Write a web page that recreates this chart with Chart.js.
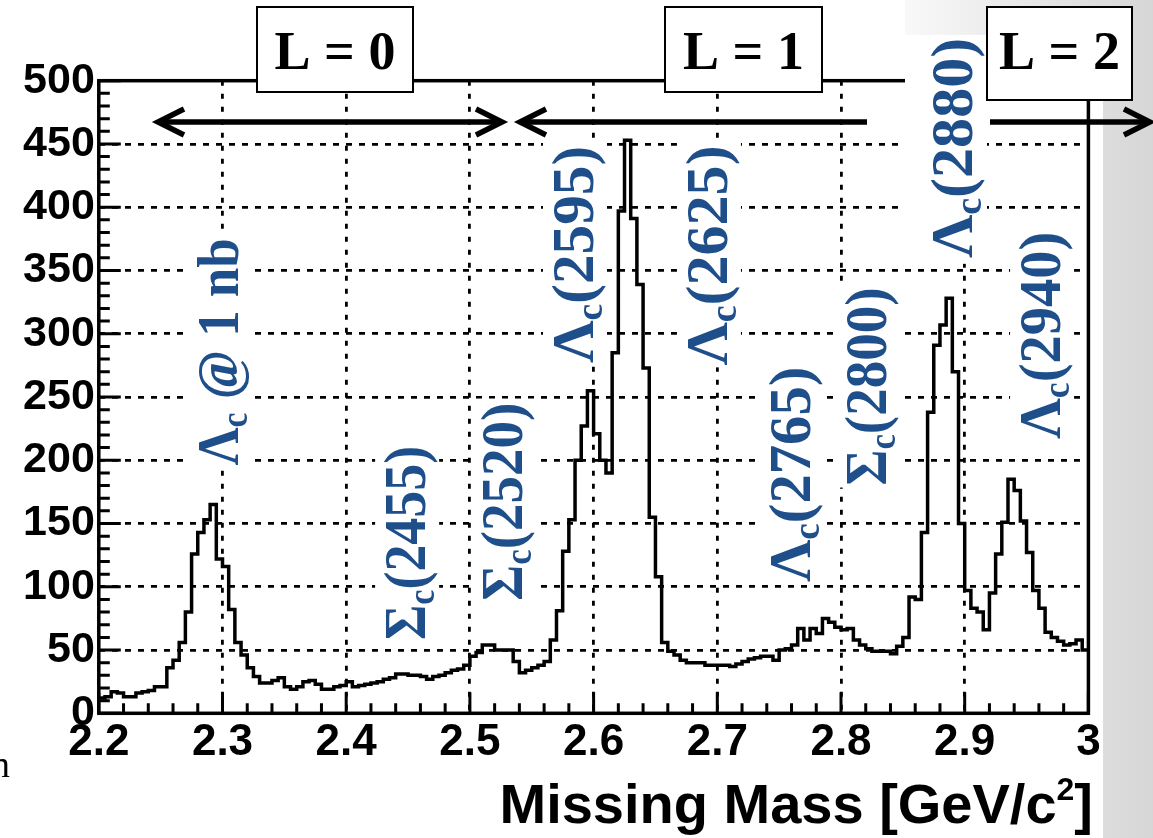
<!DOCTYPE html>
<html><head><meta charset="utf-8">
<script src="https://cdn.jsdelivr.net/npm/chart.js@4.4.1/dist/chart.umd.min.js"></script>
<style>html,body{margin:0;padding:0;background:#fff;overflow:hidden}canvas{display:block}</style>
</head><body>
<canvas id="c" width="1153" height="838"></canvas>
<script>
// ---------- data ----------
const xMin = 2.2, xMax = 3.0, binWidth = 0.005;
const counts = [
 12,13,17,16,13,13,16,17,18,21, 21,36,42,56,80,126,143,153,165,122,
 116,82,56,46,36,29,24,24,26,28, 21,19,21,25,26,23,19,19,21,22,
 25,21,22,23,24,25,27,28,31,31, 30,30,29,27,29,30,32,34,35,38,
 45,48,54,54,50,50,50,41,32,34, 36,38,41,58,81,128,153,200,227,255,
 221,200,190,285,397,453,391,339,273,155, 108,56,49,46,42,40,40,40,38,38,
 38,38,37,39,41,43,44,45,45,42, 50,51,54,67,58,67,63,75,72,68,
 66,67,58,54,51,49,49,49,47,53, 60,92,90,143,238,291,307,328,270,150,
 97,83,80,66,95,126,151,185,176,152, 127,97,83,64,60,57,54,55,58,50
];
const xTickLabels = ['2.2','2.3','2.4','2.5','2.6','2.7','2.8','2.9','3'];
const yTickLabels = ['0','50','100','150','200','250','300','350','400','450','500'];
const xTitle = 'Missing Mass [GeV/c';
const xTitleSup = '2';
const stateSym  = ['Λ','Σ','Σ','Λ','Λ','Λ','Σ','Λ','Λ'];
const stateText = [' @ 1 nb','(2455)','(2520)','(2595)','(2625)','(2765)','(2800)','(2880)','(2940)'];
const waveLabels = ['L = 0','L = 1','L = 2'];

// ---------- layout (annotation anchors: mass / count where each rotated label starts) ----------
const labelAnchors = [
 {m:2.3125,c:196,len:227},{m:2.4638,c:58,len:194},{m:2.5421,c:89,len:198},
 {m:2.5995,c:277,len:217},{m:2.7078,c:275,len:220},{m:2.7750,c:104,len:215},
 {m:2.8364,c:180,len:198},{m:2.9059,c:360,len:220},{m:2.9771,c:217,len:207}
];
const boxLayout = [{x0:257,x1:413,y0:7,y1:92},{x0:665,x1:822,y0:7,y1:92},{x0:987,x1:1132,y0:7,y1:100}];
const LBLUE = '#1f4f8a';

const points = counts.map((v,i)=>({x: xMin + i*binWidth, y: v}));
points.push({x: xMax, y: counts[counts.length-1]});

function arrowHead(ctx, x, y, dir){
  ctx.beginPath();
  ctx.moveTo(x + dir*26, y - 13);
  ctx.lineTo(x, y);
  ctx.lineTo(x + dir*26, y + 13);
  ctx.stroke();
}

const decor = {
  id:'decor',
  beforeDraw(chart){
    const ctx = chart.ctx;
    ctx.save();
    const g = ctx.createLinearGradient(860,0,1153,0);
    g.addColorStop(0,'#ffffff'); g.addColorStop(1,'#d6d6d6');
    ctx.fillStyle = g; ctx.fillRect(0,0,1153,838);
    ctx.fillStyle = '#ffffff';
    ctx.fillRect(0,0,905,838);
    ctx.fillRect(0,43,1103,795);
    ctx.restore();
  },
  beforeDatasetsDraw(chart){
    const ctx = chart.ctx, a = chart.chartArea;
    const xs = chart.scales.x, ys = chart.scales.y;
    ctx.save();
    // frame
    ctx.strokeStyle = '#000'; ctx.lineWidth = 3.5;
    ctx.strokeRect(a.left, a.top, a.right-a.left, a.bottom-a.top);
    // ticks
    ctx.lineWidth = 3;
    ctx.beginPath();
    for (let k=0;k<=50;k++){
      const py = ys.getPixelForValue(k*10);
      const len = (k%5===0)?22:11;
      ctx.moveTo(a.left, py); ctx.lineTo(a.left+len, py);
    }
    for (let k=0;k<=40;k++){
      const px = xs.getPixelForValue(xMin + k*0.02);
      const len = (k%5===0)?21:10;
      ctx.moveTo(px, a.bottom); ctx.lineTo(px, a.bottom-len);
    }
    ctx.stroke();

    // rotated state labels
    const fMain = 'bold 60px "Liberation Serif"', fSub = 'bold 38px "Liberation Serif"';
    labelAnchors.forEach((p,i)=>{
      const px = xs.getPixelForValue(p.m), py = ys.getPixelForValue(p.c);
      ctx.save();
      ctx.translate(px, py);
      ctx.rotate(-Math.PI/2);
      ctx.font = fMain; const w1 = ctx.measureText(stateSym[i]).width;
      ctx.font = fSub;  const w2 = ctx.measureText('c').width;
      ctx.font = fMain; const w3 = ctx.measureText(stateText[i]).width;
      const tot = w1+w2+w3;
      const sx = p.len / tot;
      ctx.fillStyle = '#fff';
      if (i===7) ctx.fillRect(-6, -67, 229, 82);
      else ctx.fillRect(-2, -50, p.len+6, 64);
      ctx.scale(sx, 1);
      ctx.fillStyle = LBLUE;
      ctx.textBaseline = 'alphabetic';
      ctx.font = fMain; ctx.fillText(stateSym[i], 0, 0);
      ctx.font = fSub;  ctx.fillText('c', w1, 9);
      ctx.font = fMain; ctx.fillText(stateText[i], w1+w2, 0);
      ctx.restore();
    });
    ctx.restore();
  },
  afterDatasetsDraw(chart){
    const ctx = chart.ctx;
    ctx.save();
    // arrows
    ctx.strokeStyle = '#000'; ctx.lineWidth = 5.5; ctx.lineCap = 'butt'; ctx.lineJoin = 'miter';
    const ay = 122;
    ctx.beginPath(); ctx.moveTo(160, ay); ctx.lineTo(500, ay); ctx.stroke();
    arrowHead(ctx, 158, ay, 1); arrowHead(ctx, 502, ay, -1);
    ctx.beginPath(); ctx.moveTo(522, ay); ctx.lineTo(867, ay); ctx.stroke();
    arrowHead(ctx, 520, ay, 1);
    ctx.beginPath(); ctx.moveTo(990, ay); ctx.lineTo(1148, ay); ctx.stroke();
    arrowHead(ctx, 1150, ay, -1);

    // L boxes
    boxLayout.forEach((b,i)=>{
      ctx.fillStyle = '#fff';
      ctx.fillRect(b.x0, b.y0, b.x1-b.x0, b.y1-b.y0);
      ctx.strokeStyle = '#000'; ctx.lineWidth = 2;
      ctx.strokeRect(b.x0, b.y0, b.x1-b.x0, b.y1-b.y0);
      ctx.fillStyle = '#000';
      ctx.font = 'bold 54px "Liberation Serif"';
      ctx.textAlign = 'center'; ctx.textBaseline = 'alphabetic';
      ctx.fillText(waveLabels[i], (b.x0+b.x1)/2, 69);
    });

    // x axis title
    ctx.fillStyle = '#000';
    ctx.textAlign = 'left'; ctx.textBaseline = 'alphabetic';
    ctx.font = 'bold 32px "Liberation Sans"';
    const ws = ctx.measureText(xTitleSup).width;
    ctx.font = 'bold 56px "Liberation Sans"';
    const wm = ctx.measureText(xTitle).width, wb = ctx.measureText(']').width;
    const endX = 1093;
    const startX = endX - wb - ws - wm;
    ctx.fillText(xTitle, startX, 823);
    ctx.font = 'bold 32px "Liberation Sans"';
    ctx.fillText(xTitleSup, startX + wm, 800);
    ctx.font = 'bold 56px "Liberation Sans"';
    ctx.fillText(']', startX + wm + ws, 823);

    // stray letter from slide at left edge
    ctx.font = '38px "Liberation Serif"';
    ctx.fillText('n', -9, 777);
    ctx.restore();
  }
};

new Chart(document.getElementById('c'), {
  type: 'line',
  data: { datasets: [{
    data: points, stepped: 'before', borderColor: '#000', borderWidth: 3.5,
    pointRadius: 0, fill: false, tension: 0
  }]},
  options: {
    responsive: false, animation: false, devicePixelRatio: 1,
    layout: { padding: { left: 0, top: 80.7, right: 64.6, bottom: 0 } },
    plugins: { legend: { display: false }, tooltip: { enabled: false } },
    scales: {
      x: {
        type: 'linear', min: xMin, max: xMax,
        ticks: { stepSize: 0.1, padding: 3, color: '#000', maxRotation: 0, autoSkip: false,
          font: { family: '"Liberation Sans", Arial', size: 44, weight: 'bold' },
          callback: (v, i) => xTickLabels[i] },
        grid: { color: '#000', lineWidth: 2.8, drawTicks: false },
        border: { display: false, dash: [5, 8] },
        afterFit(s){ s.height = 838 - 713.3; s.paddingLeft = 0; s.paddingRight = 0; }
      },
      y: {
        min: 0, max: 500,
        ticks: { stepSize: 50, padding: 4, color: '#000',
          font: { family: '"Liberation Sans", Arial', size: 43, weight: 'bold' },
          callback: (v, i) => yTickLabels[i] },
        grid: { color: '#000', lineWidth: 2.8, drawTicks: false },
        border: { display: false, dash: [6, 7] },
        afterFit(s){ s.width = 98.8; s.paddingTop = 0; s.paddingBottom = 0; }
      }
    }
  },
  plugins: [decor]
});
</script>
</body></html>
